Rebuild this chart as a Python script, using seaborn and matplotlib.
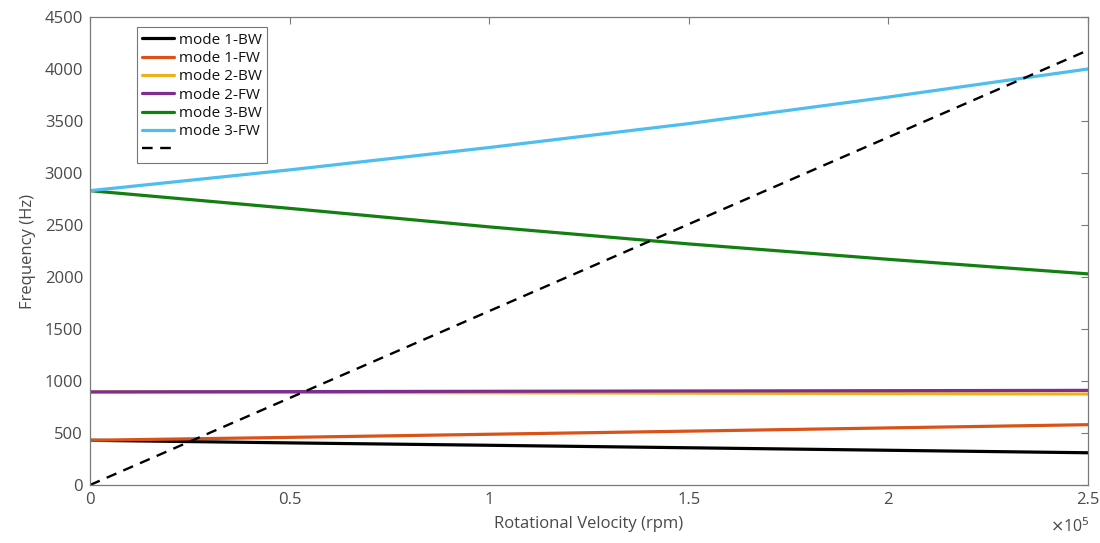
import matplotlib
matplotlib.use("Agg")
import matplotlib.pyplot as plt
import seaborn as sns
import pandas as pd
import numpy as np

# Data
rpm = [0, 50000, 100000, 150000, 200000, 250000]
mode1_bw = [430, 405, 382, 358, 334, 310]
mode1_fw = [430, 458, 488, 518, 549, 580]
mode2_bw = [895, 891, 887, 883, 879, 875]
mode2_fw = [895, 898, 901, 904, 907, 910]
mode3_bw = [2830, 2660, 2482, 2318, 2170, 2030]
mode3_fw = [2830, 3030, 3245, 3475, 3730, 4000]
line_rpm = [0, 250000]
line_freq = [0, 4180]

labels = ["mode 1-BW", "mode 1-FW", "mode 2-BW", "mode 2-FW", "mode 3-BW", "mode 3-FW"]
colors = ["#000000", "#D95319", "#EDB120", "#7E2F8E", "#118011", "#4DBEEE"]

sns.set_style("white")
plt.rcParams['font.family'] = ['Open Sans', 'DejaVu Sans']

fig = plt.figure(figsize=(11, 5.43), dpi=100)
ax = fig.add_axes([0.0818, 0.1068, 0.9072, 0.8619])

series = [mode1_bw, mode1_fw, mode2_bw, mode2_fw, mode3_bw, mode3_fw]
for lab, col, ys in zip(labels, colors, series):
    sns.lineplot(x=rpm, y=ys, ax=ax, color=col, linewidth=2.3, label=lab)
sns.lineplot(x=line_rpm, y=line_freq, ax=ax, color="black", linewidth=1.7,
             linestyle=(0, (4.5, 3.2)), label=" ")

ax.set_xlim(0, 250000)
ax.set_ylim(0, 4500)
ax.set_xticks([0, 50000, 100000, 150000, 200000, 250000])
ax.set_xticklabels(["0", "0.5", "1", "1.5", "2", "2.5"])
ax.set_yticks(range(0, 4501, 500))
axc = "#7a7a7a"
txtc = "#4a4a4a"
for s in ax.spines.values():
    s.set_color(axc)
    s.set_linewidth(0.9)
    s.set_visible(True)
ax.tick_params(direction="in", length=5, width=0.8, color=axc, labelcolor=txtc,
               labelsize=12, top=True, right=True, pad=5)
ax.set_xlabel("Rotational Velocity (rpm)", fontsize=12, color=txtc, labelpad=6)
ax.set_ylabel("Frequency (Hz)", fontsize=12, color=txtc, labelpad=6)
ax.text(1.002, -0.068, r"$\times$10$^5$", transform=ax.transAxes, ha="right", va="top",
        fontsize=11.5, color=txtc)

leg = ax.legend(loc="upper left", bbox_to_anchor=(0.047, 0.978), frameon=True,
                fontsize=11, handlelength=2.1, handletextpad=0.3, borderpad=0.35,
                labelspacing=0.22, fancybox=False, borderaxespad=0)
leg.get_frame().set_edgecolor("#555555")
leg.get_frame().set_linewidth(0.8)
for t in leg.get_texts():
    t.set_color("#111111")

fig.savefig("out.png", dpi=100, facecolor="white")
